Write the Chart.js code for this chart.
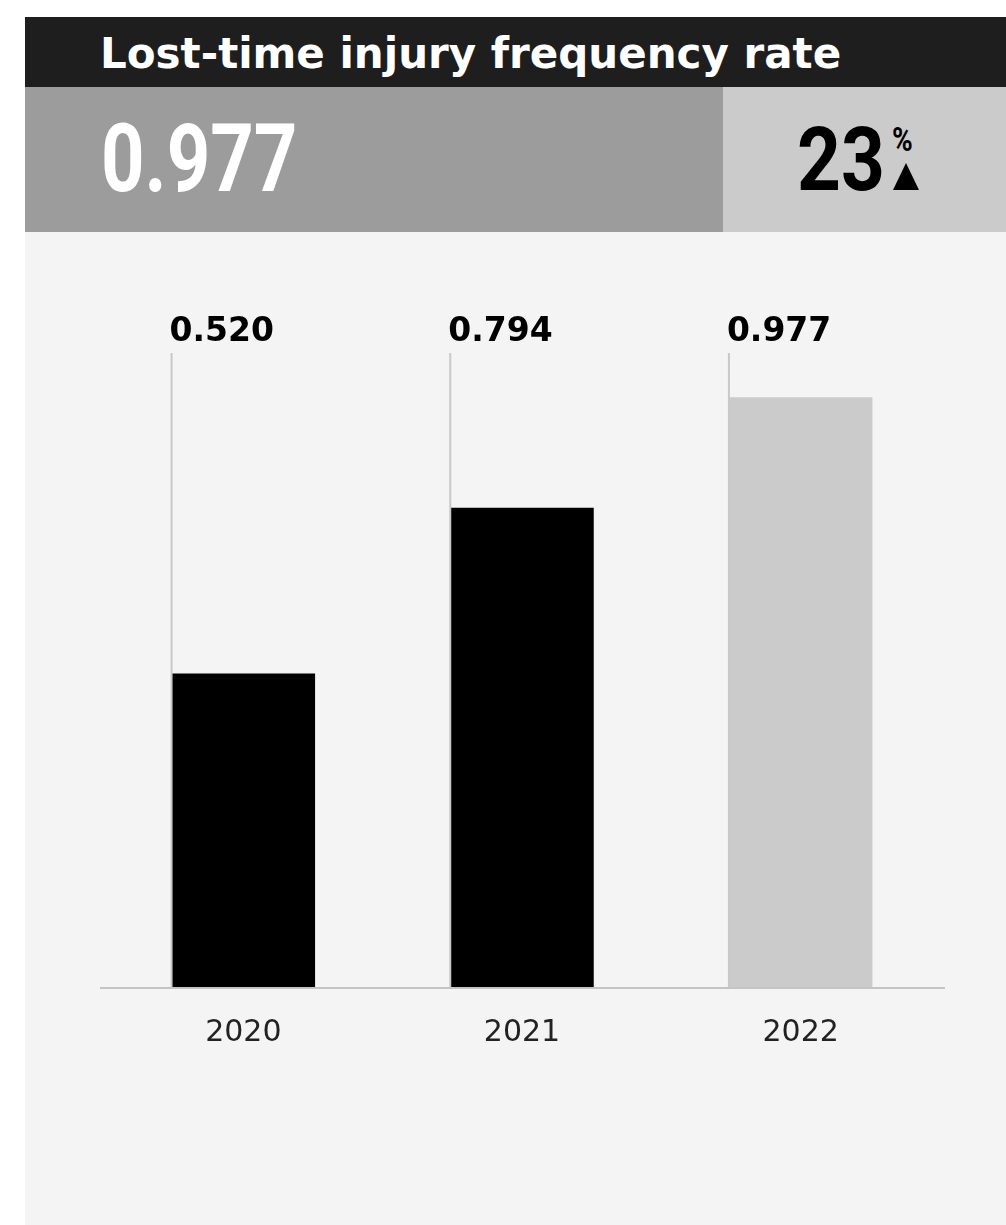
<!DOCTYPE html>
<html>
<head>
<meta charset="utf-8">
<script src="https://cdn.jsdelivr.net/npm/chart.js@4.4.1/dist/chart.umd.min.js"></script>
<style>
  html, body { margin: 0; padding: 0; background: #ffffff; }
  body { width: 1006px; height: 1225px; position: relative; overflow: hidden; font-family: "DejaVu Sans", sans-serif; }
  .title-bar { position: absolute; left: 25px; top: 17px; width: 981px; height: 70px; background: #1d1e1d; }
  .title-bar h1 { position: absolute; left: 75px; top: 2px; margin: 0; line-height: 70px; color: #ffffff; font-size: 42px; font-weight: bold; white-space: nowrap; }
  .kpi-left { position: absolute; left: 25px; top: 87px; width: 698px; height: 145px; background: #9b9c9b; }
  .kpi-right { position: absolute; left: 723px; top: 87px; width: 283px; height: 145px; background: #cbcbcb; }
  .kpi-value { position: absolute; left: 76px; top: 7px; font-family: Roboto, sans-serif; font-weight: bold; font-size: 95px; line-height: 130px; color: #ffffff; transform: scaleX(0.80); transform-origin: left center; white-space: nowrap; }
  .kpi-change { position: absolute; left: 74px; top: 8px; font-family: Roboto, sans-serif; font-weight: bold; font-size: 89px; line-height: 130px; color: #000000; transform: scaleX(0.86); transform-origin: left center; white-space: nowrap; }
  .kpi-pct { position: absolute; left: 169px; top: 36px; font-family: Roboto, sans-serif; font-weight: bold; font-size: 33px; line-height: 34px; color: #000000; transform: scaleX(0.85); transform-origin: left center; }
  .kpi-arrow { position: absolute; left: 170px; top: 76px; width: 26px; height: 27px; background: #000000; clip-path: polygon(50% 0, 100% 100%, 0 100%); }
  .chart-box { position: absolute; left: 25px; top: 232px; width: 981px; height: 993px; background: #f4f4f4; }
</style>
</head>
<body>
<div class="title-bar"><h1 id="title">Lost-time injury frequency rate</h1></div>
<div class="kpi-left"><div class="kpi-value" id="kpiValue"></div></div>
<div class="kpi-right">
  <div class="kpi-change" id="kpiChange"></div>
  <div class="kpi-pct">%</div>
  <div class="kpi-arrow"></div>
</div>
<div class="chart-box"><canvas id="chart" width="981" height="993"></canvas></div>
<script>
// Lost-time injury frequency rate by year
const years = ["2020", "2021", "2022"];
const ltifr = [0.520, 0.794, 0.977];
const barColors = ["#000000", "#000000", "#cbcbcb"];
const changePct = "23";

document.getElementById("kpiValue").textContent = ltifr[ltifr.length - 1].toFixed(3);
document.getElementById("kpiChange").textContent = changePct;

// Leader lines from each value label down the bar's left edge, plus the labels and baseline
const barAnnotations = {
  id: "barAnnotations",
  afterDatasetsDraw(chart) {
    const { ctx, chartArea } = chart;
    const meta = chart.getDatasetMeta(0);
    const base = chart.scales.y.getPixelForValue(0);
    ctx.save();
    meta.data.forEach((bar, i) => {
      const left = bar.x - bar.width / 2;
      ctx.strokeStyle = "#c8c8c8";
      ctx.lineWidth = 2;
      ctx.beginPath();
      ctx.moveTo(left, chartArea.top);
      ctx.lineTo(left, base);
      ctx.stroke();
      ctx.fillStyle = "#000000";
      ctx.font = "bold 33px 'DejaVu Sans'";
      ctx.textAlign = "left";
      ctx.textBaseline = "alphabetic";
      ctx.fillText(ltifr[i].toFixed(3), left - 2, chartArea.top - 12);
    });
    ctx.strokeStyle = "#c4c4c4";
    ctx.lineWidth = 2;
    ctx.beginPath();
    ctx.moveTo(chartArea.left - 4, base);
    ctx.lineTo(chartArea.right + 5, base);
    ctx.stroke();
    ctx.restore();
  }
};

new Chart(document.getElementById("chart"), {
  type: "bar",
  data: {
    labels: years,
    datasets: [{
      data: ltifr,
      backgroundColor: barColors,
      borderWidth: 0,
      categoryPercentage: 1,
      barPercentage: 0.515
    }]
  },
  options: {
    responsive: false,
    animation: false,
    layout: { padding: { left: 79, right: 66, top: 121, bottom: 157 } },
    plugins: { legend: { display: false }, tooltip: { enabled: false } },
    scales: {
      x: {
        grid: { display: false, drawTicks: false },
        border: { display: false },
        ticks: { color: "#222222", padding: 27, font: { family: "DejaVu Sans", size: 30 } },
        afterFit(axis) { axis.height = 80; }
      },
      y: {
        display: false,
        min: 0,
        max: 1.05
      }
    }
  },
  plugins: [barAnnotations]
});
</script>
</body>
</html>
